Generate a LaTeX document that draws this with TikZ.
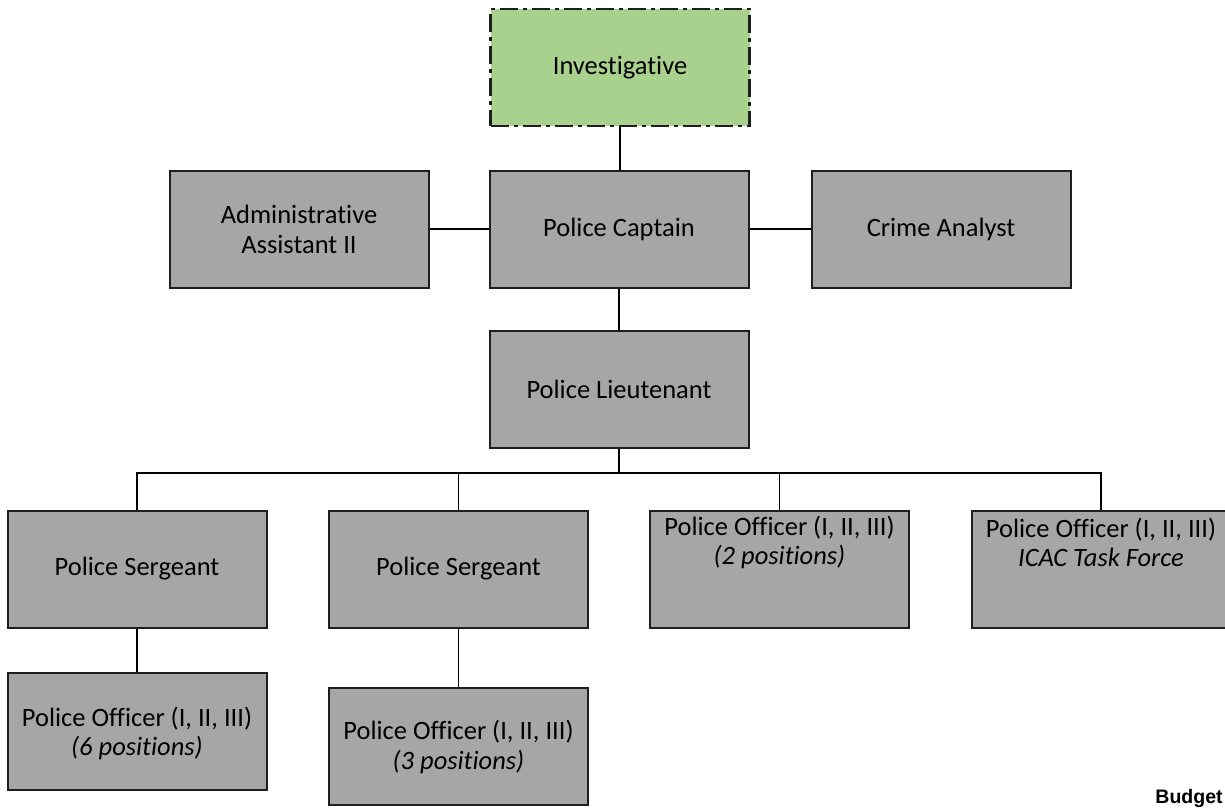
\documentclass[tikz,border=0pt]{standalone}
\usepackage{fontspec}
\setmainfont{Carlito}[Ligatures=NoCommon]
\newfontfamily\budgetfont{Liberation Sans}
\definecolor{boxgray}{HTML}{A6A6A6}
\definecolor{unitgreen}{HTML}{A9D18E}
\definecolor{edge}{HTML}{1E1E1E}
\begin{document}
\begin{tikzpicture}[x=1pt,y=-1pt,
  unit/.style={draw=edge, line width=2pt, fill=boxgray, minimum width=259pt,
    minimum height=117pt, inner sep=0pt, align=center,
    font=\fontsize{26.5}{30}\selectfont},
  division/.style={unit, fill=unitgreen, line width=2.6pt,
    dash pattern=on 18pt off 5pt on 4pt off 5pt},
  caption/.style={align=center, inner sep=0pt, font=\fontsize{26.5}{29}\selectfont},
  wire/.style={draw=black, line width=1.8pt},
  buswire/.style={draw=black, line width=2.4pt}]
\useasboundingbox (0,0) rectangle (1225,808);

% top division
\node[division] (inv) at (620,67.5) {Investigative};

% command staff row
\node[unit] (admin) at (299,229) {Administrative\\Assistant II};
\node[unit] (capt)  at (619,229) {Police Captain};
\node[unit] (crime) at (941,229) {Crime Analyst};
\node[unit] (lieut) at (619,389) {Police Lieutenant};

% field units
\node[unit] (sgtA) at (137,569) {Police Sergeant};
\node[unit] (sgtB) at (458.5,569) {Police Sergeant};
\node[unit] (offC) at (779.5,569) {};
\node[unit] (icac) at (1101,569) {};
\node[caption] (offCt) at (779.5,542) {Police Officer (I, II, III)\\\itshape(2 positions)};
\node[caption] (icact) at (1101,542) {Police Officer (I, II, III)\\\itshape ICAC Task Force};

\node[unit] (offA) at (137,731) {};
\node[caption] (offAt) at (137,733) {Police Officer (I, II, III)\\\itshape(6 positions)};
\node[unit] (offB) at (458.5,746.5) {Police Officer (I, II, III)\\\itshape(3 positions)};

\node[anchor=base, inner sep=0pt, font=\budgetfont\bfseries\fontsize{19.5}{23}\selectfont]
  (budget) at (1189,803) {Budget};

% reporting lines
\coordinate (bus) at (619,473);
\draw[wire] (inv.south) -- (inv.south |- capt.north);
\draw[wire] (admin.east) -- (capt.west);
\draw[wire] (capt.east) -- (crime.west);
\draw[wire] (capt.south) -- (lieut.north);
\draw[wire] (lieut.south) -- (bus);
\draw[buswire] (sgtA.north) |- (bus) -| (icac.north);
\draw[wire] (sgtB.north) -- (sgtB.north |- bus);
\draw[wire] (offC.north) -- (offC.north |- bus);
\draw[wire] (sgtA.south) -- (offA.north);
\draw[wire] (sgtB.south) -- (offB.north);
\end{tikzpicture}
\end{document}
